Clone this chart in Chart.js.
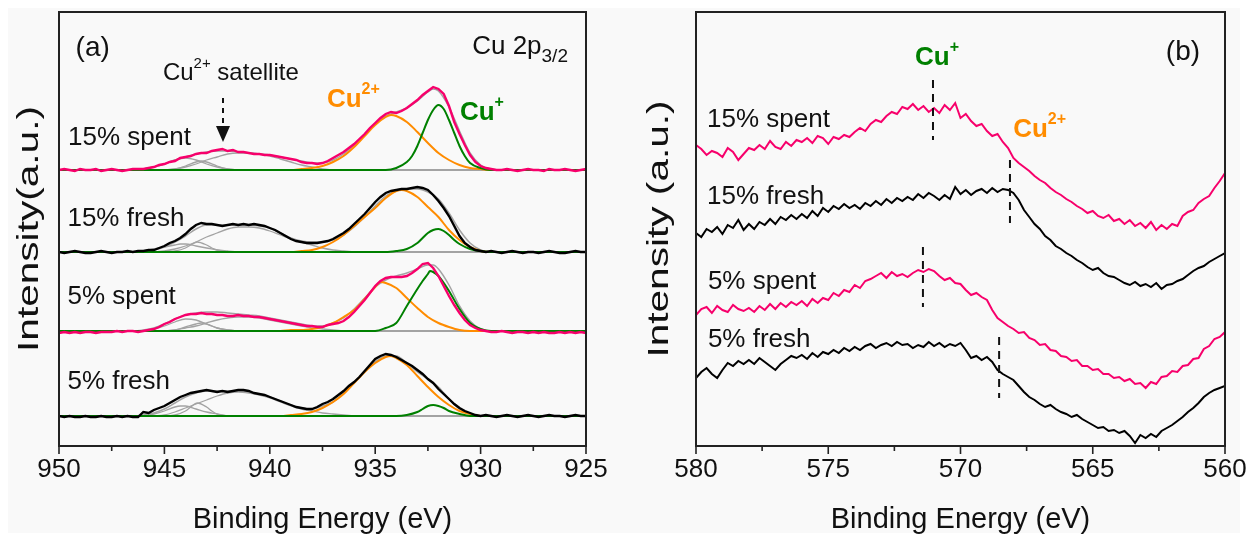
<!DOCTYPE html>
<html>
<head>
<meta charset="utf-8">
<script src="https://cdn.jsdelivr.net/npm/chart.js@4.4.1/dist/chart.umd.min.js"></script>
<style>
    html, body { margin: 0; padding: 0; background: #fff; overflow: hidden; }
    #sheet { position: absolute; left: 8px; top: 8px; width: 1232px; height: 525px; background: #f9f9f9; }
    canvas { position: absolute; top: 0; }
    #chartA { left: 0; }
    #chartB { left: 620px; }
</style>
</head>
<body>
<div id="sheet"></div>
<canvas id="chartA" width="620" height="540"></canvas>
<canvas id="chartB" width="627" height="540"></canvas>
<script>
// ===== DATA: panel (a) Cu 2p3/2 =====
const energyA = [
    950,949.75,949.5,949.25,949,948.75,948.5,948.25,948,947.75,
    947.5,947.25,947,946.75,946.5,946.25,946,945.75,945.5,945.25,
    945,944.75,944.5,944.25,944,943.75,943.5,943.25,943,942.75,
    942.5,942.25,942,941.75,941.5,941.25,941,940.75,940.5,940.25,
    940,939.75,939.5,939.25,939,938.75,938.5,938.25,938,937.75,
    937.5,937.25,937,936.75,936.5,936.25,936,935.75,935.5,935.25,
    935,934.75,934.5,934.25,934,933.75,933.5,933.25,933,932.75,
    932.5,932.25,932,931.75,931.5,931.25,931,930.75,930.5,930.25,
    930,929.75,929.5,929.25,929,928.75,928.5,928.25,928,927.75,
    927.5,927.25,927,926.75,926.5,926.25,926,925.75,925.5,925.25,
    925
];
const ticksA = [950, 945, 940, 935, 930, 925];
const sampleNames = ['15% spent', '15% fresh', '5% spent', '5% fresh'];
// vertical stacking of the four spectra (intensity units)
const stackA = [276, 194, 115, 30];

const spent15A = [
    0,1,0,-1,1,0,0,1,-1,0,
    1,0,-1,0,1,1,1,2,3,5,
    6,8,9,12,13,14,16,17,17,19,
    20,21,19,20,18,18,17,16,16,15,
    15,14,13,12,11,10,8,7,7,6,
    7,9,12,15,18,22,26,31,36,42,
    47,52,56,58,57,59,62,66,70,75,
    79,83,81,76,64,48,36,25,15,8,
    4,2,1,0,0,1,0,-1,0,1,
    0,0,-1,1,0,0,1,0,-1,0,
    1
];
const fresh15A = [
    0,-1,0,1,0,-1,-1,0,1,0,
    -1,0,0,1,0,1,1,2,2,4,
    6,9,11,14,18,23,27,29,28,28,
    27,26,27,28,27,28,27,28,27,26,
    24,22,19,16,13,11,10,9,9,9,
    10,11,13,16,19,23,28,33,38,44,
    50,55,59,61,62,63,63,64,65,64,
    62,57,51,44,36,26,16,9,5,2,
    1,0,1,0,-1,0,1,0,-1,0,
    0,-1,0,1,0,-1,-1,0,1,0,
    0
];
const spent5A = [
    -2,-1,-2,-1,-2,-1,-1,-2,-1,-1,
    -1,0,-1,0,0,-1,0,1,2,4,
    7,9,12,14,16,17,17,18,17,17,
    16,16,15,15,16,15,15,14,14,13,
    12,11,10,9,8,7,6,5,5,4,
    4,6,7,8,10,14,19,25,31,38,
    45,50,53,54,54,54,55,58,62,67,
    68,63,55,45,35,26,18,11,6,3,
    1,0,-1,-1,0,-1,-2,-1,-1,-2,
    -1,-2,-1,-2,-2,-1,-2,-1,-2,-1,
    -2
];
const fresh5A = [
    0,-1,0,-1,-1,0,-1,-1,0,-1,
    -1,0,-1,0,-1,-1,4,3,6,8,
    10,13,16,19,21,23,24,25,26,25,
    24,25,24,25,26,26,25,23,22,21,
    19,17,15,13,11,9,8,7,7,9,
    12,14,17,21,25,30,34,39,45,51,
    57,60,62,61,59,56,53,50,46,42,
    37,33,27,22,17,12,8,5,3,1,
    0,1,0,-1,0,1,0,-1,0,1,
    0,-1,0,1,0,0,-1,0,1,0,
    0
];

// fitted components, [binding energy, intensity]
const cuPlus = [
    [[950,0],[934.5,0],[934,2],[933.5,8],[933.25,14],[933,24],[932.75,37],[932.5,50],[932.25,60],[932,65],[931.75,61],[931.5,50],[931.25,37],[931,24],[930.75,14],[930.5,7],[930,2],[929.5,0],[925,0]],
    [[950,0],[934.5,0],[934,1],[933.5,3],[933,9],[932.75,14],[932.5,19],[932.25,22],[932,23],[931.75,21],[931.5,17],[931.25,12],[931,8],[930.5,3],[930,1],[929.5,0],[925,0]],
    [[950,0],[935,0],[934.5,3],[934,8],[933.5,25],[933,42],[932.75,50],[932.5,57],[932.4,60],[932.25,59],[932,55],[931.5,40],[931,22],[930.5,8],[930,2],[929.5,0],[925,0]],
    [[950,0],[934,0],[933.5,1],[933,4],[932.75,7],[932.5,10],[932.25,11],[932,10],[931.75,8],[931.5,5],[931,2],[930.5,0],[925,0]]
];
const cu2Plus = [
    [[950,0],[939,0],[938.5,1],[938,2],[937.5,4],[937,8],[936.5,14],[936,23],[935.5,34],[935,45],[934.5,53],[934.25,55],[934,54],[933.5,48],[933,38],[932.5,27],[932,17],[931.5,10],[931,5],[930.5,2],[930,1],[929.5,0],[925,0]],
    [[950,0],[939,0],[938.5,1],[938,2],[937.5,5],[937,10],[936.5,17],[936,26],[935.5,35],[935,44],[934.5,54],[934,61],[933.75,62],[933.5,61],[933,55],[932.5,45],[932,35],[931.5,22],[931,12],[930.5,5],[930,1],[929.5,0],[925,0]],
    [[950,0],[939.5,0],[939,1],[938.5,1],[938,2],[937.5,4],[937,8],[936.5,14],[936,21],[935.5,32],[935,44],[934.75,49],[934.5,48],[934,43],[933.5,33],[933,23],[932.5,14],[932,8],[931.5,4],[931,1],[930.5,0],[925,0]],
    [[950,0],[939.5,0],[939,1],[938.5,2],[938,4],[937.5,8],[937,14],[936.5,22],[936,33],[935.5,44],[935,53],[934.5,59],[934.25,60],[934,58],[933.5,51],[933,40],[932.5,29],[932,19],[931.5,11],[931,5],[930.5,2],[930,0],[925,0]]
];
const satellites = [
    [
        [[946.5,0],[946,1],[945.5,3],[945,6],[944.5,10],[944,12],[943.5,10],[943,6],[942.5,3],[942,1],[941.5,0]],
        [[945,0],[944.5,1],[944,4],[943.5,8],[943.25,9],[943,8],[942.5,4],[942,1],[941.5,0]],
        [[945,0],[944.5,1],[944,3],[943.5,6],[943,10],[942.5,13],[942,16],[941.5,17],[941,17],[940.5,16],[940,14],[939.5,11],[939,8],[938.5,5],[938,3],[937.5,1],[937,0]]
    ],
    [
        [[946.5,0],[946,1],[945.5,3],[945,5],[944.5,7],[944.25,8],[944,8],[943.5,6],[943,4],[942.5,2],[942,1],[941.5,0]],
        [[945,0],[944.5,1],[944,4],[943.75,7],[943.45,10],[943,7],[942.75,4],[942.5,2],[942,0]],
        [[945.5,0],[945,1],[944.5,3],[944,6],[943.5,10],[943,15],[942.5,19],[942,23],[941.5,25],[941,25],[940.5,24],[940,21],[939.5,17],[939,13],[938.5,10],[938,7],[937.5,4],[937,2],[936.5,1],[936,0]]
    ],
    [
        [[946,0],[945.5,2],[945,5],[944.5,9],[944,12],[943.5,11],[943,7],[942.5,3],[942,1],[941.5,0]],
        [[945,0],[944.5,1],[944,4],[943.5,7],[943.25,8],[943,7],[942.5,3],[942,1],[941.5,0]],
        [[945,0],[944.5,1],[944,3],[943.5,5],[943,8],[942.5,11],[942,13],[941.5,14],[941,14],[940.5,13],[940,11],[939.5,9],[939,7],[938.5,5],[938,3],[937.5,2],[937,1],[936.5,0]]
    ],
    [
        [[946,0],[945.5,2],[945,5],[944.5,9],[944.25,10],[944,10],[943.5,7],[943,4],[942.5,2],[942,0]],
        [[945,0],[944.5,1],[944,5],[943.75,9],[943.45,13],[943,9],[942.75,5],[942.5,2],[942,0]],
        [[945.5,0],[945,1],[944.5,4],[944,8],[943.5,12],[943,16],[942.5,20],[942,23],[941.5,24],[941,23],[940.5,21],[940,18],[939.5,14],[939,10],[938.5,7],[938,5],[937.5,3],[937,2],[936.5,1],[936,0]]
    ]
];
const envelopes = [
    [[950,0],[946.5,0],[946,1],[945.5,3],[945,6],[944.5,10],[944,13],[943.5,16],[943,18],[942.5,19],[942,19],[941.5,18],[941,17],[940.5,16],[940,15],[939.5,13],[939,11],[938.5,9],[938,7],[937.5,7],[937,10],[936.5,16],[936,25],[935.5,36],[935,46],[934.5,54],[934,58],[933.5,62],[933,69],[932.5,78],[932.25,81],[932,79],[931.5,63],[931,39],[930.5,17],[930,5],[929.5,1],[929,0],[925,0]],
    [[950,0],[946.5,0],[946,1],[945.5,2],[945,5],[944.5,10],[944,16],[943.5,23],[943,27],[942.5,27],[942,27],[941.5,27],[941,27],[940.5,26],[940,24],[939.5,19],[939,14],[938.5,11],[938,10],[937.5,10],[937,12],[936.5,17],[936,25],[935.5,35],[935,46],[934.5,56],[934,61],[933.5,63],[933,63],[932.5,60],[932,53],[931.5,39],[931,22],[930.5,9],[930,2],[929.5,0],[925,0]],
    [[950,0],[946.5,0],[946,1],[945.5,3],[945,7],[944.5,12],[944,16],[943.5,18],[943,19],[942.5,19],[942,18],[941.5,17],[941,16],[940.5,15],[940,13],[939.5,11],[939,9],[938.5,7],[938,5],[937.5,5],[937,8],[936.5,13],[936,22],[935.5,33],[935,44],[934.5,51],[934,55],[933.5,58],[933,62],[932.5,66],[932.25,66],[932,62],[931.5,46],[931,25],[930.5,10],[930,2],[929.5,0],[925,0]],
    [[950,0],[946.5,0],[946,1],[945.5,3],[945,7],[944.5,13],[944,19],[943.5,23],[943,25],[942.5,25],[942,25],[941.5,25],[941,24],[940.5,22],[940,19],[939.5,15],[939,11],[938.5,8],[938,7],[937.5,10],[937,14],[936.5,23],[936,33],[935.5,44],[935,54],[934.5,60],[934,60],[933.5,53],[933,44],[932.5,37],[932,29],[931.5,17],[931,7],[930.5,2],[930,0],[925,0]]
];
const backgroundLine = [[950,0],[925,0]];

// ===== DATA: panel (b) Cu LMM =====
const energyB = [
    580,579.8,579.6,579.4,579.2,579,578.8,578.6,578.4,578.2,
    578,577.8,577.6,577.4,577.2,577,576.8,576.6,576.4,576.2,
    576,575.8,575.6,575.4,575.2,575,574.8,574.6,574.4,574.2,
    574,573.8,573.6,573.4,573.2,573,572.8,572.6,572.4,572.2,
    572,571.8,571.6,571.4,571.2,571,570.8,570.6,570.4,570.2,
    570,569.8,569.6,569.4,569.2,569,568.8,568.6,568.4,568.2,
    568,567.8,567.6,567.4,567.2,567,566.8,566.6,566.4,566.2,
    566,565.8,565.6,565.4,565.2,565,564.8,564.6,564.4,564.2,
    564,563.8,563.6,563.4,563.2,563,562.8,562.6,562.4,562.2,
    562,561.8,561.6,561.4,561.2,561,560.8,560.6,560.4,560.2,
    560
];
const ticksB = [580, 575, 570, 565, 560];

const spent15B = [
    301,297,291,295,293,289,298,294,286,292,
    298,296,301,297,305,299,297,304,300,306,
    304,308,303,310,308,302,309,307,311,309,
    314,318,315,322,326,324,330,334,332,339,
    337,342,336,340,334,338,333,341,336,343,
    328,332,325,320,322,315,310,312,304,298,
    288,283,279,275,270,266,263,258,254,251,
    247,244,240,237,233,235,230,228,231,225,
    227,222,226,220,223,218,224,216,221,217,
    222,220,230,234,236,243,247,250,258,265,
    273
];
const fresh15B = [
    213,209,217,214,219,212,221,218,226,216,
    222,217,224,221,227,222,229,226,231,227,
    232,228,235,230,238,234,240,237,242,238,
    241,237,243,240,245,241,247,243,248,245,
    249,246,252,248,253,250,246,251,247,259,
    252,256,251,255,257,253,258,254,257,256,
    253,246,236,229,222,217,210,206,200,197,
    193,190,186,183,179,176,178,173,170,169,
    166,163,161,164,160,162,159,163,157,161,
    162,165,167,171,175,178,180,184,187,190,
    193
];
const spent5B = [
    131,137,139,133,140,136,134,141,137,135,
    138,134,140,136,142,137,143,139,144,141,
    145,140,147,143,148,146,153,150,156,154,
    161,158,165,167,170,173,168,174,170,172,
    169,173,176,174,177,175,170,166,168,163,
    162,156,151,153,149,146,136,128,124,120,
    117,113,114,108,106,101,102,96,95,90,
    89,85,86,80,80,76,77,72,72,68,
    69,65,67,62,63,58,64,62,69,70,
    75,74,80,81,87,88,97,100,107,109,
    114
];
const fresh5B = [
    68,74,78,72,68,76,83,80,85,82,
    86,82,88,84,80,76,82,86,90,88,
    91,87,93,89,94,92,96,93,98,95,
    99,96,100,102,98,101,103,100,104,101,
    102,98,101,99,104,100,103,99,102,100,
    103,96,88,90,86,89,84,76,72,69,
    66,60,54,49,46,42,39,41,37,34,
    32,29,31,27,24,21,18,19,15,16,
    13,15,10,3,11,8,12,9,15,18,
    21,25,29,34,38,43,49,53,56,58,
    60
];

// ===== STYLE =====
const FONT = '"Liberation Sans", Arial, sans-serif';
const PINK = '#f7006b';
const BLACK = '#000000';
const ORANGE = '#ff8c00';
const GREEN = '#008000';
const GRAY = '#a3a3a3';
const sampleColors = [PINK, BLACK, PINK, BLACK];

Chart.defaults.font.family = FONT;
Chart.defaults.color = '#111';

function toPoints(energies, values, shift) {
    return energies.map((e, i) => ({ x: e, y: values[i] + shift }));
}
function pairPoints(pairs, shift) {
    return pairs.map(p => ({ x: p[0], y: p[1] + shift }));
}

function drawRich(ctx, t, px, py) {
    const weight = t.bold ? 'bold ' : '';
    const main = weight + t.size + 'px ' + FONT;
    const small = weight + (t.small || Math.round(t.size * 0.62)) + 'px ' + FONT;
    const parts = [{ s: t.text, f: main, dy: 0 }];
    if (t.sup) parts.push({ s: t.sup, f: small, dy: -t.size * 0.4 });
    if (t.sub) parts.push({ s: t.sub, f: small, dy: t.size * 0.38 });
    if (t.tail) parts.push({ s: t.tail, f: main, dy: 0 });
    let total = 0;
    parts.forEach(p => { ctx.font = p.f; p.w = ctx.measureText(p.s).width; total += p.w; });
    let cx = t.align === 'center' ? px - total / 2 : px;
    ctx.fillStyle = t.color || '#111';
    ctx.textBaseline = 'middle';
    ctx.textAlign = 'left';
    parts.forEach(p => { ctx.font = p.f; ctx.fillText(p.s, cx, py + p.dy); cx += p.w; });
}

// box frame + outward major/minor ticks on the energy axis
const frameTicks = {
    id: 'frameTicks',
    afterDatasetsDraw(chart) {
        const { ctx, chartArea: a, scales: { x } } = chart;
        ctx.save();
        ctx.strokeStyle = '#222';
        ctx.lineWidth = 2;
        ctx.strokeRect(a.left, a.top, a.right - a.left, a.bottom - a.top);
        ctx.lineWidth = 1.6;
        x.ticks.forEach(t => {
            const px = x.getPixelForValue(t.value);
            const len = t.value % 5 === 0 ? 8 : 5;
            ctx.beginPath();
            ctx.moveTo(px, a.bottom);
            ctx.lineTo(px, a.bottom + len);
            ctx.stroke();
        });
        ctx.restore();
    }
};

// rotated intensity title, a little stretched along its length like the original
const yTitle = {
    id: 'yTitle',
    afterDraw(chart, args, opts) {
        const { ctx, chartArea: a } = chart;
        ctx.save();
        ctx.translate(a.left - opts.gap, (a.top + a.bottom) / 2);
        ctx.rotate(-Math.PI / 2);
        ctx.scale(opts.stretch, 1);
        ctx.font = opts.size + 'px ' + FONT;
        ctx.fillStyle = '#111';
        ctx.textAlign = 'center';
        ctx.textBaseline = 'middle';
        ctx.fillText(opts.text, 0, 0);
        ctx.restore();
    }
};

// text labels, dashed markers and the satellite arrow, placed in data units
const notes = {
    id: 'notes',
    afterDatasetsDraw(chart, args, opts) {
        const { ctx, scales: { x, y } } = chart;
        ctx.save();
        ctx.strokeStyle = '#111';
        (opts.dashes || []).forEach(d => {
            const px = x.getPixelForValue(d.e);
            ctx.lineWidth = d.width;
            ctx.setLineDash(d.dash);
            ctx.beginPath();
            ctx.moveTo(px, y.getPixelForValue(d.from));
            ctx.lineTo(px, y.getPixelForValue(d.to));
            ctx.stroke();
        });
        ctx.setLineDash([]);
        (opts.arrows || []).forEach(ar => {
            const px = x.getPixelForValue(ar.e);
            const y0 = y.getPixelForValue(ar.from);
            const y1 = y.getPixelForValue(ar.tip);
            ctx.fillStyle = '#111';
            ctx.beginPath();
            ctx.moveTo(px - ar.half, y0);
            ctx.lineTo(px + ar.half, y0);
            ctx.lineTo(px, y1);
            ctx.closePath();
            ctx.fill();
        });
        (opts.texts || []).forEach(t => drawRich(ctx, t, x.getPixelForValue(t.e), y.getPixelForValue(t.h)));
        ctx.restore();
    }
};

function axisOptions(cfg) {
    return {
        x: {
            type: 'linear',
            reverse: true,
            min: cfg.min,
            max: cfg.max,
            afterBuildTicks: s => {
                const out = [];
                for (let v = cfg.max; v >= cfg.min - 1e-9; v -= 2.5) out.push({ value: v });
                s.ticks = out;
            },
            afterFit: s => { s.height = 94; },
            grid: { display: false, drawTicks: true, tickLength: 8 },
            border: { display: false },
            ticks: {
                autoSkip: false,
                maxRotation: 0,
                padding: 0,
                color: '#111',
                font: { size: 26 },
                callback: v => (cfg.labels.includes(v) ? String(v) : '')
            },
            title: {
                display: true,
                text: 'Binding Energy (eV)',
                color: '#111',
                font: { size: 29 },
                padding: { top: 0, bottom: 3 }
            }
        },
        y: {
            min: 0,
            max: 434,
            afterFit: s => { s.width = cfg.yWidth; },
            grid: { display: false, drawTicks: false },
            border: { display: false },
            ticks: { display: false },
            title: { display: false }
        }
    };
}

// ===== PANEL (a) =====
const seriesA = [spent15A, fresh15A, spent5A, fresh5A];
const datasetsA = [];
seriesA.forEach((vals, i) => {
    const shift = stackA[i];
    datasetsA.push({ label: sampleNames[i], data: toPoints(energyA, vals, shift), borderColor: sampleColors[i], borderWidth: 2.4, order: 0 });
    datasetsA.push({ label: 'Cu+', data: pairPoints(cuPlus[i], shift), borderColor: GREEN, borderWidth: 2, cubicInterpolationMode: 'monotone', order: 1 });
    datasetsA.push({ label: 'Cu2+', data: pairPoints(cu2Plus[i], shift), borderColor: ORANGE, borderWidth: 2, cubicInterpolationMode: 'monotone', order: 2 });
    datasetsA.push({ label: 'fit', data: pairPoints(envelopes[i], shift), borderColor: GRAY, borderWidth: 1.5, cubicInterpolationMode: 'monotone', order: 3 });
    satellites[i].forEach(s => {
        datasetsA.push({ label: 'sat', data: pairPoints(s, shift), borderColor: GRAY, borderWidth: 1.3, cubicInterpolationMode: 'monotone', order: 4 });
    });
    datasetsA.push({ label: 'bg', data: pairPoints(backgroundLine, shift), borderColor: GRAY, borderWidth: 2, order: 5 });
});

new Chart(document.getElementById('chartA'), {
    type: 'scatter',
    data: { datasets: datasetsA.map(d => ({ ...d, showLine: true, pointRadius: 0, fill: false })) },
    options: {
        responsive: false,
        animation: false,
        devicePixelRatio: 1,
        layout: { autoPadding: false, padding: { left: 0, right: 34, top: 12, bottom: 0 } },
        scales: axisOptions({ min: 925, max: 950, labels: ticksA, yWidth: 59 }),
        plugins: {
            legend: { display: false },
            tooltip: { enabled: false },
            yTitle: { text: 'Intensity(a.u.)', gap: 29, size: 29, stretch: 1.4 },
            notes: {
                texts: [
                    { text: '(a)', e: 948.4, h: 398, size: 28, align: 'center' },
                    { text: 'Cu', sup: '2+', tail: ' satellite', e: 945.07, h: 373, size: 24 },
                    { text: sampleNames[0], e: 949.57, h: 308, size: 26 },
                    { text: sampleNames[1], e: 949.6, h: 227, size: 26 },
                    { text: sampleNames[2], e: 949.6, h: 149, size: 26 },
                    { text: sampleNames[3], e: 949.6, h: 64, size: 26 },
                    { text: 'Cu 2p', sub: '3/2', e: 930.4, h: 399, size: 26, small: 19 },
                    { text: 'Cu', sup: '2+', e: 937.29, h: 346, size: 26, bold: true, color: ORANGE },
                    { text: 'Cu', sup: '+', e: 930.98, h: 333, size: 26, bold: true, color: GREEN }
                ],
                dashes: [{ e: 942.22, from: 348, to: 319, width: 2, dash: [5, 5] }],
                arrows: [{ e: 942.22, from: 320, tip: 304, half: 7 }]
            }
        }
    },
    plugins: [frameTicks, notes, yTitle]
});

// ===== PANEL (b) =====
const seriesB = [spent15B, fresh15B, spent5B, fresh5B];
const datasetsB = seriesB.map((vals, i) => ({
    label: sampleNames[i],
    data: toPoints(energyB, vals, 0),
    borderColor: sampleColors[i],
    borderWidth: 2,
    showLine: true,
    pointRadius: 0,
    fill: false
}));

new Chart(document.getElementById('chartB'), {
    type: 'scatter',
    data: { datasets: datasetsB },
    options: {
        responsive: false,
        animation: false,
        devicePixelRatio: 1,
        layout: { autoPadding: false, padding: { left: 0, right: 22, top: 12, bottom: 0 } },
        scales: axisOptions({ min: 560, max: 580, labels: ticksB, yWidth: 76 }),
        plugins: {
            legend: { display: false },
            tooltip: { enabled: false },
            yTitle: { text: 'Intensity (a.u.)', gap: 36, size: 29, stretch: 1.4 },
            notes: {
                texts: [
                    { text: '(b)', e: 561.59, h: 394, size: 28, align: 'center' },
                    { text: 'Cu', sup: '+', e: 571.72, h: 388, size: 26, bold: true, color: GREEN },
                    { text: 'Cu', sup: '2+', e: 568.01, h: 316, size: 26, bold: true, color: ORANGE },
                    { text: sampleNames[0], e: 579.58, h: 326, size: 26 },
                    { text: sampleNames[1], e: 579.58, h: 249, size: 26 },
                    { text: sampleNames[2], e: 579.55, h: 164, size: 26 },
                    { text: sampleNames[3], e: 579.55, h: 106, size: 26 }
                ],
                dashes: [
                    { e: 571.04, from: 366, to: 306, width: 2, dash: [8, 6] },
                    { e: 568.13, from: 286, to: 223, width: 2, dash: [8, 6] },
                    { e: 571.42, from: 199, to: 139, width: 2, dash: [8, 6] },
                    { e: 568.54, from: 109, to: 48, width: 2, dash: [8, 6] }
                ]
            }
        }
    },
    plugins: [frameTicks, notes, yTitle]
});
</script>
</body>
</html>
